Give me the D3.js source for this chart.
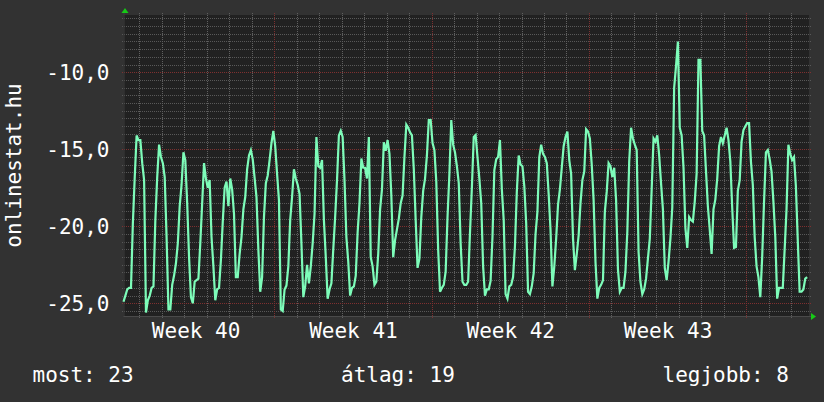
<!DOCTYPE html>
<html><head><meta charset="utf-8">
<script src="https://cdn.jsdelivr.net/npm/d3@7"></script>
<style>
html,body{margin:0;padding:0;background:#323232;}
svg{display:block;}
text{font-family:"DejaVu Sans Mono",monospace;fill:#ffffff;}
</style></head>
<body>
<script>
// ---- data (2-hour samples, ranks shown as negative values) ----
const startTime = Date.UTC(2010, 9, 4, 7, 0); // Monday of ISO week 40
const stepHours = 2;
const values = [
-24.9,-24.5,-24.1,-24.0,-24.0,-19.8,-16.8,-14.1,-14.4,-14.4,-15.9,-17.0,
-25.6,-24.8,-24.5,-24.0,-23.9,-19.6,-16.8,-14.7,-15.5,-15.9,-16.8,-20.7,
-25.4,-25.4,-23.8,-23.2,-22.4,-21.1,-18.7,-17.3,-15.2,-15.7,-18.5,-22.0,
-24.6,-25.0,-23.6,-23.5,-23.4,-21.1,-18.5,-15.9,-16.9,-17.5,-17.0,-20.7,
-22.6,-24.8,-24.1,-24.0,-22.2,-19.7,-17.5,-17.1,-18.7,-16.9,-17.6,-19.2,
-23.3,-23.3,-21.8,-20.7,-18.9,-18.1,-16.3,-15.4,-15.05,-15.65,-16.85,-18.1,
-21.5,-24.25,-23.3,-19.4,-17.2,-16.7,-15.7,-14.6,-13.8,-14.8,-16.6,-18.3,
-25.4,-25.5,-24.1,-23.85,-22.6,-19.6,-18.1,-16.3,-16.9,-17.3,-17.9,-21.1,
-24.6,-23.9,-22.5,-23.7,-22.6,-21.1,-19.2,-14.2,-16.1,-16.2,-15.7,-19.6,
-22.0,-24.7,-24.1,-23.7,-21.5,-19.4,-17.0,-14.1,-13.8,-14.2,-17.0,-20.7,
-22.3,-24.5,-24.0,-23.9,-23.2,-20.4,-18.5,-15.6,-16.2,-16.2,-16.9,-14.2,
-22.0,-22.6,-23.8,-23.6,-21.8,-18.9,-17.6,-14.55,-15.1,-14.4,-15.3,-18.0,
-22.0,-20.9,-20.2,-19.5,-18.5,-18.0,-15.5,-13.4,-13.6,-13.9,-14.1,-16.3,
-19.6,-22.7,-22.1,-19.4,-17.7,-16.9,-15.4,-13.1,-13.1,-14.6,-15.05,-17.1,
-21.5,-24.25,-24.0,-23.8,-22.95,-19.4,-16.6,-13.1,-14.7,-15.2,-16.1,-17.2,
-21.1,-23.6,-23.8,-23.8,-23.6,-20.4,-17.5,-14.2,-14.07,-15.5,-16.9,-18.5,
-22.6,-24.5,-24.1,-24.1,-23.55,-20.7,-16.35,-15.65,-15.5,-14.4,-17.6,-19.6,
-24.4,-24.7,-23.9,-23.8,-23.3,-21.3,-17.75,-15.4,-16.0,-16.1,-17.4,-19.8,
-24.25,-24.4,-23.9,-23.05,-20.5,-19.05,-15.5,-14.7,-15.3,-15.5,-15.9,-17.9,
-20.25,-23.9,-22.6,-20.8,-18.6,-17.6,-16.2,-14.8,-14.2,-13.85,-15.7,-16.6,
-20.8,-22.85,-21.8,-20.6,-18.5,-17.0,-16.45,-13.7,-13.85,-14.3,-16.0,-18.3,
-22.3,-24.7,-24.0,-23.8,-23.5,-19.05,-17.75,-15.9,-16.1,-16.8,-16.2,-18.3,
-22.8,-24.25,-24.0,-24.0,-22.95,-20.35,-15.8,-13.6,-14.3,-14.7,-15.05,-21.65,
-23.6,-24.4,-24.1,-23.4,-22.1,-20.8,-17.6,-14.3,-14.5,-14.1,-15.4,-17.2,
-18.9,-22.7,-23.5,-22.3,-20.8,-18.8,-11.0,-9.6,-8.0,-13.6,-14.1,-16.2,
-20.1,-21.4,-19.4,-19.6,-19.7,-18.4,-16.6,-9.2,-9.2,-13.8,-14.1,-16.4,
-18.7,-20.2,-21.8,-18.9,-18.25,-16.9,-14.8,-14.2,-14.6,-14.1,-13.6,-14.4,
-15.8,-18.8,-21.4,-21.35,-17.7,-17.0,-14.5,-13.75,-13.5,-13.3,-13.3,-15.8,
-17.3,-20.7,-22.6,-23.3,-24.6,-22.0,-18.4,-15.2,-15.05,-15.65,-16.45,-18.4,
-20.7,-24.7,-24.0,-24.0,-24.0,-21.5,-18.9,-14.7,-15.3,-15.7,-15.5,-17.4,
-20.9,-24.25,-24.25,-24.1,-23.4,-23.3
];
const yTickValues = [-25, -20, -15, -10];
const yTitle = "onlinestat.hu";
const legendLabels = ["most: 23", "átlag: 19", "legjobb: 8"];

// ---- layout ----
const W = 824, H = 402;
const L = 123.5, R = 809, T = 15, B = 316;
const hourMs = 3600e3;
const totalHours = 732;

const svg = d3.select("body").append("svg").attr("width", W).attr("height", H);
svg.append("rect").attr("width", W).attr("height", H).attr("fill", "#323232");
svg.append("rect").attr("x", L).attr("y", T).attr("width", R - L).attr("height", B - T).attr("fill", "#212121");

const x = d3.scaleUtc().domain([new Date(startTime), new Date(startTime + totalHours * hourMs)]).range([L, R]);
const y = d3.scaleLinear().domain([-25.825, -6.28]).range([B, T]);

const data = values.map((v, i) => ({t: new Date(startTime + i * stepHours * hourMs), v}));

const g = svg.append("g").attr("shape-rendering", "crispEdges");
// minor horizontal grid (every 0.5)
const minorY = d3.range(-25.5, -6.4, 0.5).filter(v => !yTickValues.some(m => Math.abs(m - v) < 1e-6));
g.selectAll("line.hmin").data(minorY).enter().append("line")
  .attr("x1", L - 2).attr("x2", R + 2)
  .attr("y1", d => Math.round(y(d)) + 0.5).attr("y2", d => Math.round(y(d)) + 0.5)
  .attr("stroke", "#585858").attr("stroke-dasharray", "1,1");
// minor vertical grid (days)
const days = d3.utcDay.range(x.domain()[0], x.domain()[1]).filter(d => d.getUTCDay() !== 1);
g.selectAll("line.vmin").data(days).enter().append("line")
  .attr("x1", d => Math.round(x(d)) + 0.5).attr("x2", d => Math.round(x(d)) + 0.5)
  .attr("y1", T - 2).attr("y2", B + 2)
  .attr("stroke", "#606060").attr("stroke-dasharray", "1,1");
// major grid
g.selectAll("line.hmaj").data(yTickValues).enter().append("line")
  .attr("x1", L - 2).attr("x2", R + 2)
  .attr("y1", d => Math.round(y(d)) + 0.5).attr("y2", d => Math.round(y(d)) + 0.5)
  .attr("stroke", "#7e3030").attr("stroke-dasharray", "1,1");
const weeks = d3.utcMonday.range(x.domain()[0], x.domain()[1]);
g.selectAll("line.vmaj").data(weeks).enter().append("line")
  .attr("x1", d => Math.round(x(d)) + 0.5).attr("x2", d => Math.round(x(d)) + 0.5)
  .attr("y1", T - 2).attr("y2", B + 2)
  .attr("stroke", "#7e3030").attr("stroke-dasharray", "1,1");

// axes lines
svg.append("line").attr("x1", L).attr("x2", R + 2).attr("y1", B + 0.5).attr("y2", B + 0.5).attr("stroke", "#4a4a4a");
svg.append("line").attr("x1", L + 0.5).attr("x2", L + 0.5).attr("y1", T - 2).attr("y2", B).attr("stroke", "#3c3c3c");

// arrows
svg.append("path").attr("d", `M${L-2},${T-2} L${L+5},${T-2} L${L+1.5},${T-7} Z`).attr("fill", "#17c917");
svg.append("path").attr("d", `M${R+2},${B-3} L${R+2},${B+4} L${R+7},${B+0.5} Z`).attr("fill", "#17c917");

// data line
const line = d3.line().x(d => x(d.t)).y(d => y(d.v));
svg.append("path").datum(data).attr("d", line)
  .attr("fill", "none").attr("stroke", "#7dfcb9").attr("stroke-width", 2.2).attr("stroke-linejoin", "miter");

// y labels
const fmt = d3.format(".1f");
svg.selectAll("text.yl").data(yTickValues).enter().append("text")
  .attr("x", 109.5).attr("y", d => y(d) + 7.7)
  .attr("text-anchor", "end").attr("font-size", 21)
  .text(d => fmt(d).replace(".", ",").replace("−", "-"));

// x labels (mid-week)
const labelWeeks = d3.utcMonday.range(d3.utcMonday.floor(x.domain()[0]), x.domain()[1])
  .filter(d => { const c = x(new Date(+d + 3.5 * 86400e3)); return c > L && c < R; });
svg.selectAll("text.xl").data(labelWeeks).enter().append("text")
  .attr("x", d => x(new Date(+d + 3.5 * 86400e3)) + 0.5).attr("y", 337.5)
  .attr("text-anchor", "middle").attr("font-size", 21)
  .text(d => "Week " + d3.utcFormat("%V")(d));

// y title
svg.append("text").attr("transform", `translate(21,${(T + B) / 2}) rotate(-90)`)
  .attr("text-anchor", "middle").attr("font-size", 21).text(yTitle);

// legend
const legX = [32.5, 341, 662.5];
svg.selectAll("text.lg").data(legendLabels).enter().append("text")
  .attr("x", (d, i) => legX[i]).attr("y", 381.5).attr("font-size", 21).text(d => d);
</script>
</body></html>
